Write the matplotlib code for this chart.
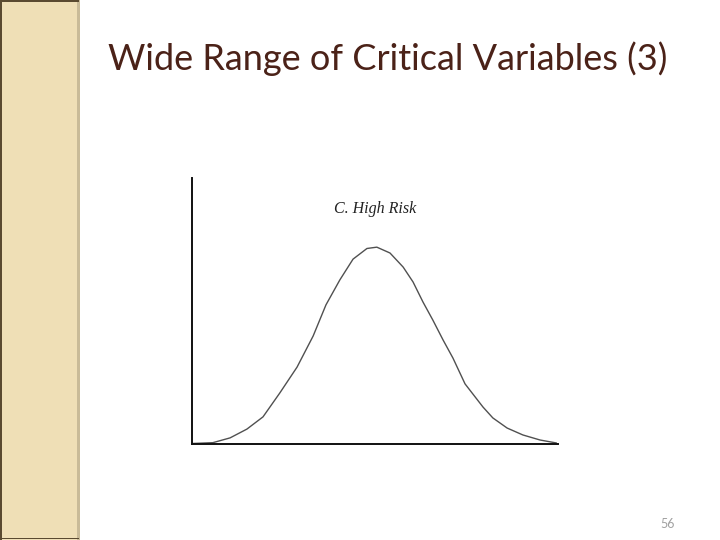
import matplotlib
matplotlib.use("Agg")
import matplotlib.pyplot as plt
from matplotlib.patches import Rectangle

# Data (axis units: x 0..10, y 0..1)
curve_x = [0.03, 0.57, 1.04, 1.50, 1.94, 2.40, 2.87, 3.31, 3.66, 4.04, 4.40, 4.78,
           5.05, 5.41, 5.77, 6.04, 6.31, 6.58, 6.86, 7.13, 7.46, 7.95, 8.22, 8.61,
           9.04, 9.51, 9.95]
curve_y = [0.002, 0.005, 0.023, 0.056, 0.102, 0.192, 0.289, 0.406, 0.523, 0.617,
           0.695, 0.735, 0.740, 0.718, 0.665, 0.609, 0.534, 0.466, 0.391, 0.323,
           0.226, 0.139, 0.098, 0.060, 0.034, 0.015, 0.004]

title_text = "Wide Range of Critical Variables (3)"
curve_label = "C. High Risk"
page_number = "56"

fig = plt.figure(figsize=(7.2, 5.4), dpi=100)
fig.patch.set_facecolor("white")

# left decorative band
fig.patches.append(Rectangle((0, 0), 77 / 720, 1, transform=fig.transFigure,
                             facecolor="#EFDFB6", edgecolor="none", zorder=0))
fig.patches.append(Rectangle((77 / 720, 0), 3 / 720, 1, transform=fig.transFigure,
                             facecolor="#C9BB98", edgecolor="none", zorder=0))
fig.patches.append(Rectangle((0, 0), 1.5 / 720, 1, transform=fig.transFigure,
                             facecolor="#5A4A30", edgecolor="none", zorder=1))
fig.patches.append(Rectangle((0, 1 - 1.5 / 540), 79 / 720, 1.5 / 540, transform=fig.transFigure,
                             facecolor="#5A4A30", edgecolor="none", zorder=1))
fig.patches.append(Rectangle((0, 1 / 540), 79 / 720, 1.5 / 540, transform=fig.transFigure,
                             facecolor="#5A4A30", edgecolor="none", zorder=1))

ax = fig.add_axes([192 / 720, 96 / 540, 366 / 720, 266 / 540])
ax.plot(curve_x, curve_y, color="#505050", lw=1.0, solid_joinstyle="round")
ax.set_xlim(0, 10)
ax.set_ylim(0, 1)
ax.set_xticks([])
ax.set_yticks([])
for s in ["top", "right"]:
    ax.spines[s].set_visible(False)
for s in ["left", "bottom"]:
    ax.spines[s].set_linewidth(1.4)
    ax.spines[s].set_color("#111111")
ax.patch.set_alpha(0)

ax.text(5.0, 0.87, curve_label, ha="center", va="baseline", fontsize=11.5,
        family="Liberation Serif", style="italic", color="#222222")

fig.text(388 / 720, 1 - 70 / 540, title_text, ha="center", va="baseline",
         fontsize=26, family="Lato", color="#4B2218")

fig.text(668 / 720, 1 - 528 / 540, page_number, ha="center", va="baseline",
         fontsize=9, family="Lato", color="#A0A0A0")

fig.savefig("out.png", dpi=100)
